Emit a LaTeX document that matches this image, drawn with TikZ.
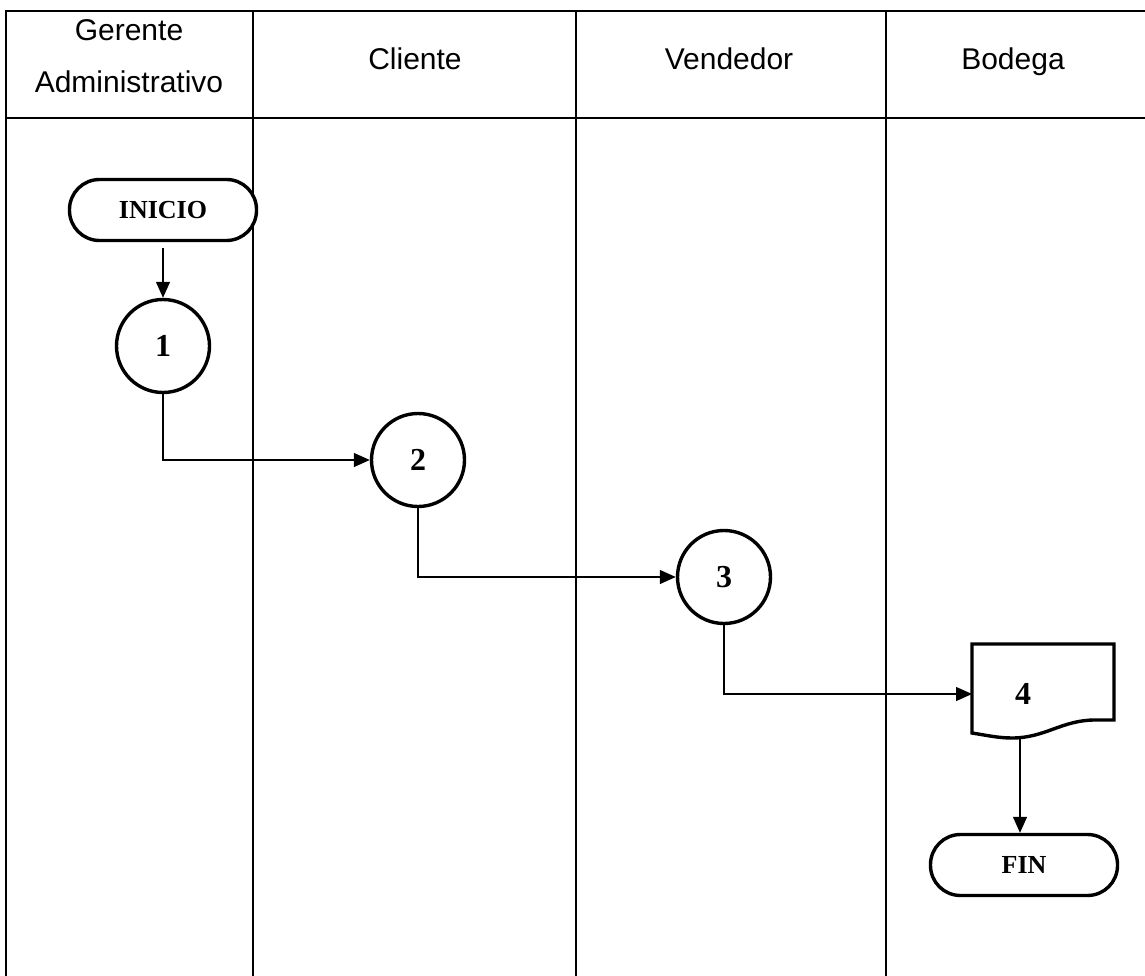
\documentclass[tikz,border=0pt]{standalone}
\usepackage{fontspec}
\setmainfont{Liberation Serif}
\newfontfamily\headfont{Liberation Sans}
\usetikzlibrary{arrows.meta}
\begin{document}
\begin{tikzpicture}[x=1pt,y=-1pt,
  gridline/.style={line width=2pt},
  lanehead/.style={font=\headfont\fontsize{30}{52}\selectfont, anchor=base, inner sep=0pt},
  terminal/.style={draw, line width=3.4pt, rounded corners=30pt, minimum width=187pt,
    minimum height=61pt, font=\bfseries\fontsize{26}{30}\selectfont},
  stepcircle/.style={draw, circle, line width=3.4pt, minimum size=93pt, inner sep=0pt,
    font=\bfseries\fontsize{32}{34}\selectfont},
  flow/.style={line width=1.3pt, -{Triangle[length=16pt,width=14pt]}}
]
\useasboundingbox (0,0) rectangle (1145,976);

% swimlane grid
\draw[gridline] (5,11) -- (1145,11);
\draw[gridline] (5,118) -- (1145,118);
\foreach \xx in {6,253,576,886} \draw[gridline] (\xx,10) -- (\xx,976);

% lane titles
\node[lanehead] (hGer) at (129,41) {Gerente};
\node[lanehead] (hAdm) at (129,93) {Administrativo};
\node[lanehead] (hCli) at (415,70) {Cliente};
\node[lanehead] (hVen) at (729,70) {Vendedor};
\node[lanehead] (hBod) at (1013,70) {Bodega};

% flow shapes
\node[terminal, fill=white] (inicio) at (163,210) {INICIO};
\node[stepcircle] (c1) at (163,346) {1};
\node[stepcircle] (c2) at (418,460) {2};
\node[stepcircle] (c3) at (724,577) {3};

% document shape for step 4
\draw[line width=3.4pt, line join=miter]
  (972,644) -- (1114,644) -- (1114,720) -- (1095,720)
  .. controls (1062,720) and (1045,738) .. (1012,738)
  .. controls (998,738) and (985,735) .. (972,733) -- cycle;
\node[font=\bfseries\fontsize{32}{34}\selectfont] (doc) at (1023,694) {4};
\coordinate (docin) at (972,694);
\coordinate (docout) at (1020,738);

\node[terminal] (fin) at (1024,865) {FIN};

% connectors
\draw[flow, shorten <=6pt] (inicio.south) -- (c1.north);
\draw[flow] (c1.south) |- (c2.west);
\draw[flow] (c2.south) |- (c3.west);
\draw[flow] (c3.south) |- (docin);
\draw[flow] (docout) -- (docout |- fin.north);
\end{tikzpicture}
\end{document}
